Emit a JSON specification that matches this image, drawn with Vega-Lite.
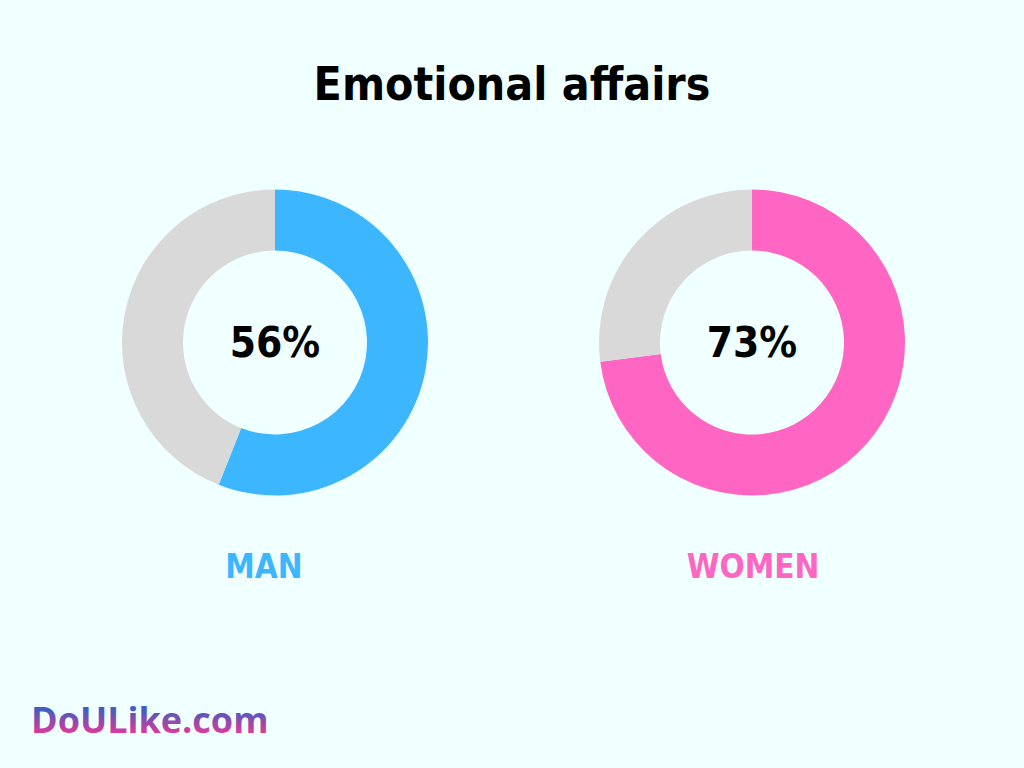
{
  "$schema": "https://vega.github.io/schema/vega-lite/v6.json",
  "width": 1024,
  "height": 768,
  "padding": 0,
  "autosize": {"type": "fit", "contains": "padding"},
  "background": "#F0FFFF",
  "config": {"view": {"stroke": null}},
  "datasets": {
    "shares": [
      {"group": "MAN", "category": "MAN", "share": 0.56, "order": 1},
      {"group": "MAN", "category": "rest", "share": 0.44, "order": 2},
      {"group": "WOMEN", "category": "WOMEN", "share": 0.73, "order": 1},
      {"group": "WOMEN", "category": "rest", "share": 0.27, "order": 2}
    ]
  },
  "resolve": {"scale": {"x": "independent", "y": "independent", "theta": "independent"}},
  "layer": [
    {
      "data": {"name": "shares"},
      "transform": [
        {"stack": "share", "groupby": ["group"], "sort": [{"field": "order", "order": "ascending"}], "as": ["t0", "t1"]}
      ],
      "mark": {"type": "arc", "outerRadius": 153, "innerRadius": 92},
      "encoding": {
        "x": {"field": "group", "type": "nominal", "scale": {"type": "point", "padding": 0, "domain": ["MAN", "WOMEN"], "range": [275, 752]}, "axis": null},
        "y": {"datum": 342.5, "type": "quantitative", "scale": {"domain": [0, 768], "reverse": true, "zero": false, "nice": false}, "axis": null},
        "theta": {"field": "t0", "type": "quantitative", "scale": {"domain": [0, 1]}},
        "theta2": {"field": "t1"},
        "color": {"field": "category", "type": "nominal", "scale": {"domain": ["MAN", "WOMEN", "rest"], "range": ["#3BB6FF", "#FF66C4", "#D9D9D9"]}, "legend": null}
      }
    },
    {
      "data": {"name": "shares"},
      "transform": [{"filter": "datum.category !== 'rest'"}],
      "mark": {"type": "text", "font": "DejaVu Sans Condensed", "fontWeight": "bold", "fontSize": 42, "align": "center", "baseline": "alphabetic", "color": "#000000"},
      "encoding": {
        "x": {"field": "group", "type": "nominal", "scale": {"type": "point", "padding": 0, "domain": ["MAN", "WOMEN"], "range": [275, 752]}, "axis": null},
        "y": {"datum": 357, "type": "quantitative", "scale": {"domain": [0, 768], "reverse": true, "zero": false, "nice": false}, "axis": null},
        "text": {"field": "share", "type": "quantitative", "format": ".0%"}
      }
    },
    {
      "data": {"name": "shares"},
      "transform": [{"filter": "datum.category !== 'rest'"}],
      "mark": {"type": "text", "font": "DejaVu Sans Condensed", "fontWeight": "bold", "fontSize": 33, "align": "center", "baseline": "alphabetic"},
      "encoding": {
        "x": {"field": "group", "type": "nominal", "scale": {"type": "point", "padding": 0, "domain": ["MAN", "WOMEN"], "range": [264, 753]}, "axis": null},
        "y": {"datum": 578, "type": "quantitative", "scale": {"domain": [0, 768], "reverse": true, "zero": false, "nice": false}, "axis": null},
        "text": {"field": "group", "type": "nominal"},
        "color": {"field": "category", "type": "nominal", "scale": {"domain": ["MAN", "WOMEN", "rest"], "range": ["#3BB6FF", "#FF66C4", "#D9D9D9"]}, "legend": null}
      }
    },
    {
      "data": {"values": [{"title": "Emotional affairs"}]},
      "mark": {"type": "text", "font": "DejaVu Sans Condensed", "fontWeight": "bold", "fontSize": 46, "align": "center", "baseline": "alphabetic", "color": "#000000"},
      "encoding": {
        "x": {"datum": 512, "type": "quantitative", "scale": {"domain": [0, 1024], "zero": false, "nice": false}, "axis": null},
        "y": {"datum": 100, "type": "quantitative", "scale": {"domain": [0, 768], "reverse": true, "zero": false, "nice": false}, "axis": null},
        "text": {"field": "title", "type": "nominal"}
      }
    },
    {
      "data": {"values": [{"brand": "DoULike.com"}]},
      "mark": {
        "type": "text", "font": "Open Sans", "fontWeight": "bold", "fontSize": 36, "align": "left", "baseline": "alphabetic",
        "color": {"gradient": "linear", "x1": 0, "y1": 0, "x2": 0, "y2": 1, "stops": [{"offset": 0.28, "color": "#3D5EC2"}, {"offset": 0.78, "color": "#E2379B"}]}
      },
      "encoding": {
        "x": {"datum": 31, "type": "quantitative", "scale": {"domain": [0, 1024], "zero": false, "nice": false}, "axis": null},
        "y": {"datum": 733, "type": "quantitative", "scale": {"domain": [0, 768], "reverse": true, "zero": false, "nice": false}, "axis": null},
        "text": {"field": "brand", "type": "nominal"}
      }
    }
  ]
}
